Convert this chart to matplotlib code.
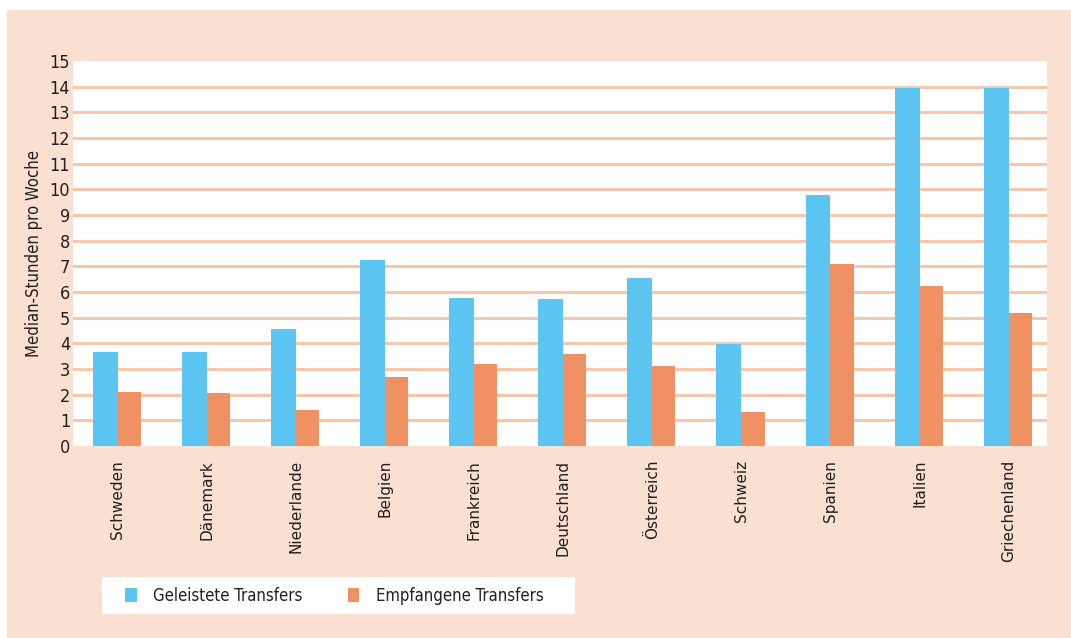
import matplotlib
matplotlib.use("Agg")
import matplotlib.pyplot as plt
import numpy as np
from matplotlib.patches import Rectangle

countries = ["Schweden", "Dänemark", "Niederlande", "Belgien", "Frankreich",
             "Deutschland", "Österreich", "Schweiz", "Spanien", "Italien",
             "Griechenland"]
geleistet = [3.66, 3.66, 4.56, 7.25, 5.77, 5.73, 6.55, 3.97, 9.78, 13.95, 13.95]
empfangen = [2.10, 2.06, 1.40, 2.69, 3.19, 3.58, 3.12, 1.32, 7.09, 6.23, 5.18]
series_labels = ["Geleistete Transfers", "Empfangene Transfers"]

BLUE = "#5CC5F2"
ORANGE = "#EF9162"
PEACH = "#F9E0D0"
GRID = "#F6C7AA"
TXT = "#231F20"
NARROW = dict(family="DejaVu Sans", stretch="condensed")

W, H = 1071, 638
fig = plt.figure(figsize=(W / 100, H / 100), dpi=100, facecolor="white")
fig.patches.append(Rectangle((7 / W, 0), 1 - 7 / W, 1 - 10 / H,
                             transform=fig.transFigure, facecolor=PEACH,
                             edgecolor="none", zorder=-5))

ax = fig.add_axes([73 / W, 1 - 446 / H, (1047 - 73) / W, (446 - 61) / H])
ax.set_facecolor("white")

x = np.arange(len(countries))
bw = 0.28
ax.bar(x, geleistet, width=-bw, align="edge", color=BLUE, zorder=3,
       linewidth=0, label=series_labels[0])
ax.bar(x, empfangen, width=bw * 0.93, align="edge", color=ORANGE, zorder=3,
       linewidth=0, label=series_labels[1])

ax.set_ylim(0, 15)
ax.set_xlim(-0.5, 10.43)
ax.set_yticks(range(0, 16))
for v in range(1, 15):
    ax.axhline(v, color=GRID, linewidth=2.2, zorder=1)

for s in ax.spines.values():
    s.set_visible(False)
ax.tick_params(axis="both", length=0)
ax.tick_params(axis="y", pad=2)
for t in ax.get_yticklabels():
    t.set_fontproperties(dict(NARROW, size=13))
    t.set_color(TXT)

ax.set_xticks(x)
ax.set_xticklabels(countries, rotation=90, fontsize=11, color=TXT,
                   va="top", ha="center")
ax.tick_params(axis="x", pad=10)

ax.set_ylabel("Median-Stunden pro Woche", fontsize=12, color=TXT,
              labelpad=5, **NARROW)

# legend box
fig.patches.append(Rectangle((102 / W, 1 - 614 / H), (575 - 102) / W,
                             (614 - 577) / H, transform=fig.transFigure,
                             facecolor="white", edgecolor="none", zorder=1))
handles, labels = ax.get_legend_handles_labels()
leg = fig.legend(handles, labels, loc="center left",
                 bbox_to_anchor=(110 / W, 1 - 596 / H), ncol=2, frameon=False,
                 handlelength=0.7, handleheight=0.9, handletextpad=1.0,
                 columnspacing=2.7, prop=dict(NARROW, size=12))
for t in leg.get_texts():
    t.set_color(TXT)

fig.savefig("out.png", dpi=100, facecolor="white")
